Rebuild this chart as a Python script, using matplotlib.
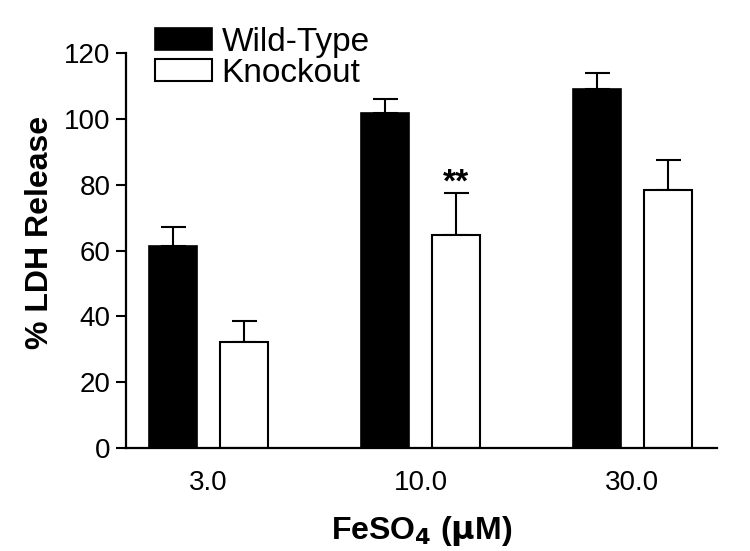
import matplotlib.pyplot as plt
import numpy as np

plt.rcParams['font.family'] = ['Liberation Sans', 'DejaVu Sans']

# data
doses = ['3.0', '10.0', '30.0']
wt_mean = [61.4, 101.8, 109.2]
wt_err = [5.8, 4.4, 4.9]
ko_mean = [32.1, 64.8, 78.5]
ko_err = [6.5, 12.8, 9.2]
labels = ['Wild-Type', 'Knockout']

x = np.arange(len(doses))
w = 0.225
off = 0.168

fig = plt.figure(figsize=(7.5, 5.51), dpi=100)
ax = fig.add_axes([0.168, 0.1875, 0.788, 0.7155])

ax.bar(x - off, wt_mean, w, color='black', edgecolor='black', linewidth=1.2,
       label=labels[0], zorder=2)
ax.bar(x + off, ko_mean, w, color='white', edgecolor='black', linewidth=1.5,
       label=labels[1], zorder=2)

ax.errorbar(x - off, wt_mean, yerr=[np.zeros(3), wt_err], fmt='none',
            ecolor='black', elinewidth=1.5, capsize=9, capthick=1.5, zorder=1)
ax.errorbar(x + off, ko_mean, yerr=[np.zeros(3), ko_err], fmt='none',
            ecolor='black', elinewidth=1.5, capsize=9, capthick=1.5, zorder=1)

# significance mark
ax.text(x[1] + off, 80.5, '**', ha='center', va='center', fontsize=24,
        fontweight='bold')

ax.set_xlim(-0.39, 2.40)
ax.set_ylim(0, 120)
ax.set_yticks(np.arange(0, 121, 20))
ax.set_xticks(x)
ax.set_xticklabels(doses)

ax.spines['top'].set_visible(False)
ax.spines['right'].set_visible(False)
ax.spines['left'].set_linewidth(1.6)
ax.spines['bottom'].set_linewidth(1.6)
ax.tick_params(axis='y', length=7, width=1.5, labelsize=20, pad=4)
ax.tick_params(axis='x', length=0, labelsize=20, pad=16)

ax.set_ylabel('% LDH Release', fontsize=23, fontweight='bold')
ax.yaxis.set_label_coords(-0.12, 0.546)
ax.set_xlabel(r'FeSO$_\mathbf{4}$ ($\mathbf{\mu}$M)', fontsize=23,
              fontweight='bold', labelpad=13)

ax.legend(loc='upper left', bbox_to_anchor=(155 / 750, 1 - 27 / 551),
          bbox_transform=fig.transFigure, frameon=False, fontsize=24,
          handlelength=1.7, handleheight=0.62, handletextpad=0.3,
          labelspacing=0.0, borderpad=0, borderaxespad=0)

fig.savefig('out.png', dpi=100)
